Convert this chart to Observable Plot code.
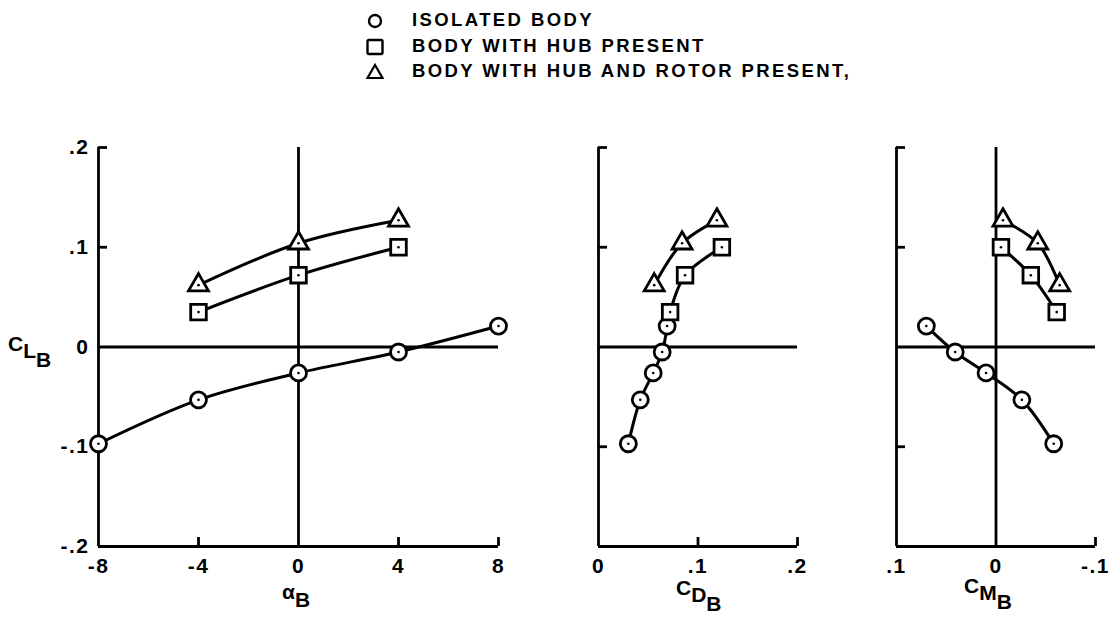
<!DOCTYPE html>
<html>
<head>
<meta charset="utf-8">
<script src="https://cdn.jsdelivr.net/npm/d3@7"></script>
<script src="https://cdn.jsdelivr.net/npm/@observablehq/plot@0.6"></script>
<style>
  html, body { margin: 0; padding: 0; background: #fff; }
  #root { position: relative; width: 1110px; height: 624px; overflow: hidden; font-family: "Liberation Sans", Arial, sans-serif; color: #000; }
  .leg { position: absolute; left: 364px; font-size: 18.5px; font-weight: bold; letter-spacing: 2.4px; line-height: 22px; white-space: nowrap; }
  .leg svg { position: absolute; left: 0; top: 2px; }
  .leg span { position: absolute; left: 48px; top: 0; }
  .ttl { position: absolute; font-size: 21px; font-weight: bold; white-space: nowrap; }
  .sub { position: relative; }
</style>
</head>
<body>
<div id="root"></div>
<script>
// ---------- data ----------
const legendLabels = ["ISOLATED BODY", "BODY WITH HUB PRESENT", "BODY WITH HUB AND ROTOR PRESENT,"];

const alphaIsolated = [-8, -4, 0, 4, 8];
const clIsolated = [-0.097, -0.053, -0.026, -0.005, 0.021];
const cdIsolated = [0.030, 0.042, 0.055, 0.064, 0.069];
const cmIsolated = [-0.058, -0.026, 0.010, 0.041, 0.070];

const alphaHub = [-4, 0, 4];
const clHub = [0.035, 0.072, 0.100];
const cdHub = [0.072, 0.087, 0.124];
const cmHub = [-0.061, -0.035, -0.005];

const alphaRotor = [-4, 0, 4];
const clRotor = [0.062, 0.104, 0.127];
const cdRotor = [0.056, 0.084, 0.119];
const cmRotor = [-0.064, -0.042, -0.007];

const yTickValues = [0.2, 0.1, 0, -0.1, -0.2];
const yTickLabels = [".2", ".1", "0", "-.1", "-.2"];
const alphaTickValues = [-8, -4, 0, 4, 8];
const alphaTickLabels = ["-8", "-4", "0", "4", "8"];
const cdTickValues = [0, 0.1, 0.2];
const cdTickLabels = ["0", ".1", ".2"];
const cmTickValues = [0.1, 0, -0.1];
const cmTickLabels = [".1", "0", "-.1"];

// ---------- build tables ----------
function table(alpha, cl, cd, cm) {
  return alpha.map((a, i) => ({alpha: a, cl: cl[i], cd: cd[i], cm: cm[i]}));
}
const series = [
  {rows: table(alphaIsolated, clIsolated, cdIsolated, cmIsolated), symbol: "circle", r: 8},
  {rows: table(alphaHub, clHub, cdHub, cmHub), symbol: "square", r: 8.8},
  {rows: table(alphaRotor, clRotor, cdRotor, cmRotor), symbol: "triangle", r: 7.4}
];

const root = document.getElementById("root");
const SVG_TOP = 120, SVG_H = 504, M_TOP = 27, M_BOTTOM = 78;
const SW = 2.8, TICK = 9;

function panel({key, left, width, mLeft, mRight, domain, xTicks, xLabels, innerTicks, vZero, showY}) {
  const plotW = width - mLeft - mRight;
  const plotH = SVG_H - M_TOP - M_BOTTOM;
  const x0 = domain[0], x1 = domain[1];
  const marks = [
    Plot.ruleX([x0], {y1: -0.2, y2: 0.2, strokeWidth: SW}),
    Plot.ruleY([-0.2], {x1: x0, x2: x1, strokeWidth: SW}),
    Plot.ruleY([0], {x1: x0, x2: x1, strokeWidth: SW}),
    Plot.tickY([0.2, 0.1, -0.1], {y: d => d, insetRight: plotW - TICK, strokeWidth: SW}),
    Plot.tickX(innerTicks, {x: d => d, insetTop: plotH - TICK, strokeWidth: SW})
  ];
  if (vZero) marks.push(Plot.ruleX([0], {y1: -0.2, y2: 0.2, strokeWidth: SW}));
  for (const s of series) {
    marks.push(Plot.line(s.rows, {x: key, y: "cl", curve: "catmull-rom", stroke: "black", strokeWidth: 3}));
  }
  for (const s of series) {
    marks.push(Plot.dot(s.rows, {x: key, y: "cl", symbol: s.symbol, r: s.r, fill: "white", stroke: "black", strokeWidth: 2.8}));
    marks.push(Plot.dot(s.rows, {x: key, y: "cl", r: 1.3, fill: "black", stroke: null}));
  }
  const chart = Plot.plot({
    width, height: SVG_H,
    marginLeft: mLeft, marginRight: mRight, marginTop: M_TOP, marginBottom: M_BOTTOM,
    style: {fontFamily: "Liberation Sans, Arial, sans-serif", fontSize: "21px", background: "transparent", color: "black", overflow: "visible"},
    x: {domain, ticks: xTicks, tickSize: 0, tickPadding: 12, tickFormat: d => xLabels[xTicks.indexOf(d)], label: null},
    y: {domain: [-0.2, 0.2], ticks: showY ? yTickValues : [], tickSize: 0, tickPadding: 9,
        tickFormat: d => yTickLabels[yTickValues.indexOf(d)], label: null, axis: showY ? "left" : null},
    marks
  });
  chart.querySelectorAll("text").forEach(t => {
    t.style.fontSize = "21px";
    t.style.fontWeight = "bold";
    t.style.letterSpacing = "1.5px";
    t.style.fill = "#000";
  });
  chart.style.position = "absolute";
  chart.style.left = left + "px";
  chart.style.top = SVG_TOP + "px";
  chart.style.maxWidth = "none";
  root.appendChild(chart);
}

panel({key: "alpha", left: 0, width: 530, mLeft: 98, mRight: 32, domain: [-8, 8],
       xTicks: alphaTickValues, xLabels: alphaTickLabels, innerTicks: [-4, 4, 8], vZero: true, showY: true});
panel({key: "cd", left: 540, width: 280, mLeft: 58, mRight: 23, domain: [0, 0.2],
       xTicks: cdTickValues, xLabels: cdTickLabels, innerTicks: [0.1, 0.2], vZero: false, showY: false});
panel({key: "cm", left: 840, width: 270, mLeft: 56, mRight: 15, domain: [0.1, -0.1],
       xTicks: cmTickValues, xLabels: cmTickLabels, innerTicks: [-0.1], vZero: true, showY: false});

// ---------- legend ----------
const legendTops = [9, 35, 60];
const legendShapes = [
  '<circle cx="11" cy="10" r="6" fill="none" stroke="black" stroke-width="2.4"/>',
  '<rect x="3.5" y="3" width="15" height="14" rx="1.5" fill="none" stroke="black" stroke-width="2.4"/>',
  '<path d="M11 3 L18.5 16 L3.5 16 Z" fill="none" stroke="black" stroke-width="2.2"/>'
];
legendLabels.forEach((t, i) => {
  const d = document.createElement("div");
  d.className = "leg";
  d.style.top = legendTops[i] + "px";
  d.innerHTML = '<svg width="22" height="20">' + legendShapes[i] + '</svg><span>' + t + '</span>';
  root.appendChild(d);
});

// ---------- axis titles ----------
function title(html, left, top) {
  const d = document.createElement("div");
  d.className = "ttl";
  d.style.left = left + "px";
  d.style.top = top + "px";
  d.innerHTML = html;
  root.appendChild(d);
}
title('C<span class="sub" style="top:7px">L<span class="sub" style="top:9px">B</span></span>', 8, 332);
title('&alpha;<span class="sub" style="top:8px">B</span>', 282, 580);
title('C<span class="sub" style="top:7px">D<span class="sub" style="top:9px">B</span></span>', 676, 576);
title('C<span class="sub" style="top:7px">M<span class="sub" style="top:9px">B</span></span>', 964, 574);
</script>
</body>
</html>
